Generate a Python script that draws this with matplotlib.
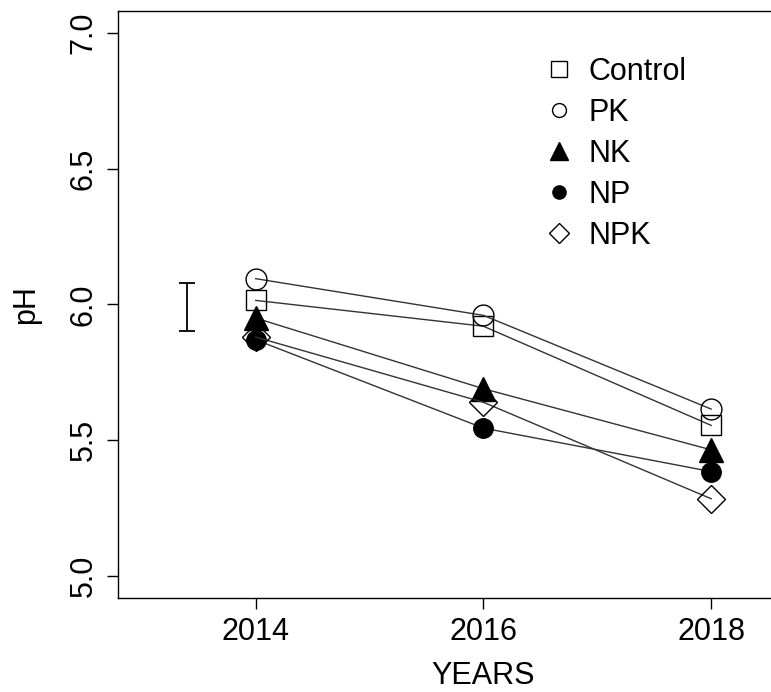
import matplotlib
matplotlib.use("Agg")
import matplotlib.pyplot as plt
from matplotlib.lines import Line2D

plt.rcParams['font.family'] = ['Liberation Sans', 'DejaVu Sans']

years = [2014, 2016, 2018]
treatments = ["Control", "PK", "NK", "NP", "NPK"]
ph_control = [6.015, 5.92, 5.555]
ph_pk = [6.095, 5.96, 5.615]
ph_nk = [5.95, 5.69, 5.465]
ph_np = [5.87, 5.545, 5.385]
ph_npk = [5.88, 5.64, 5.285]
lsd_x = 2013.4
lsd_center = 5.99
lsd_half = 0.088

series = [ph_control, ph_pk, ph_nk, ph_np, ph_npk]
markers = ['s', 'o', '^', 'o', 'D']
fills = ['none', 'none', 'black', 'black', 'none']
msizes = [14, 15, 17, 14, 14.5]
leg_sizes = [11, 10, 13, 9.5, 10]

fig = plt.figure(figsize=(7.71, 6.92), dpi=100)
ax = fig.add_axes([0.153, 0.136, 0.948, 0.848])

for vals, m, fc, ms in zip(series, markers, fills, msizes):
    ax.plot(years, vals, color='#333333', lw=1.0, marker=m, markersize=ms,
            markerfacecolor=fc, markeredgecolor='black', markeredgewidth=1.0)

# LSD bar
ax.errorbar([lsd_x], [lsd_center], yerr=[lsd_half], color='black', lw=1.3,
            capsize=5.5, capthick=1.3, fmt='none')

ax.set_xlim(2012.79, 2019.21)
ax.set_ylim(4.92, 7.08)
ax.set_xticks(years)
ax.set_yticks([5.0, 5.5, 6.0, 6.5, 7.0])
ax.set_yticklabels(['5.0', '5.5', '6.0', '6.5', '7.0'], rotation=90, va='center')
ax.tick_params(direction='out', length=8, width=1, labelsize=22, pad=6)
for s in ax.spines.values():
    s.set_linewidth(1)
ax.set_xlabel('YEARS', fontsize=22, labelpad=10)
ax.set_ylabel('pH', fontsize=22, labelpad=20)

handles = [Line2D([], [], ls='none', marker=m, markersize=s, markerfacecolor=fc,
                  markeredgecolor='black', markeredgewidth=1.0)
           for m, fc, s in zip(markers, fills, leg_sizes)]
fig.legend(handles, treatments, loc='upper left', bbox_to_anchor=(0.689, 0.936),
           frameon=False, fontsize=22, handlelength=1.0, handletextpad=0.46,
           labelspacing=0.365, borderaxespad=0)

fig.savefig('out.png', dpi=100)
